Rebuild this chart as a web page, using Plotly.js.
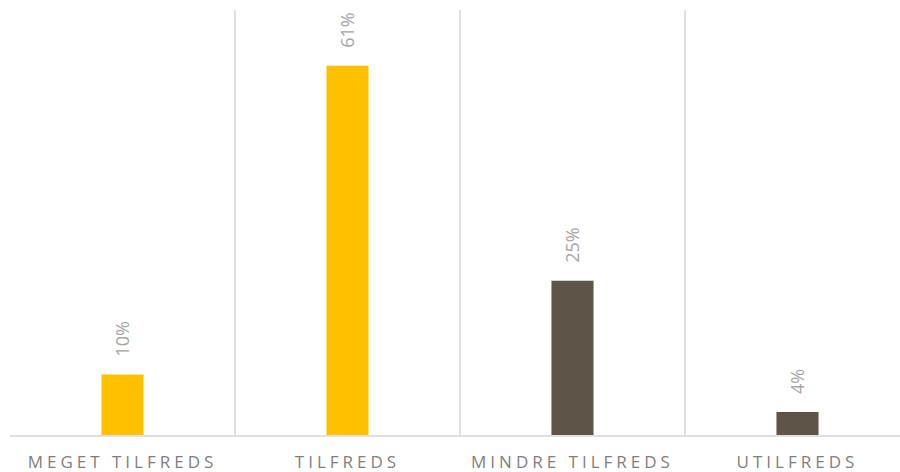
<!DOCTYPE html>
<html>
<head>
<meta charset="utf-8">
<script src="https://cdn.plot.ly/plotly-3.0.1.min.js"></script>
<style>
html,body{margin:0;padding:0;background:#fff;}
#chart{width:900px;height:472px;}
.xtick text{letter-spacing:4px;}
</style>
</head>
<body>
<div id="chart"></div>
<script>
const categories = ["MEGET TILFREDS", "TILFREDS", "MINDRE TILFREDS", "UTILFREDS"];
const values = [9.95, 60.8, 25.4, 3.8];
const valueLabels = ["10%", "61%", "25%", "4%"];
const barColors = ["#FFC000", "#FFC000", "#5E5549", "#5E5549"];

const trace = {
  type: "bar",
  x: categories,
  y: values,
  marker: {color: barColors},
  width: 0.187,
  hoverinfo: "skip"
};

const annotations = categories.map((c, i) => ({
  x: c, y: values[i], xref: "x", yref: "y",
  text: valueLabels[i], showarrow: false,
  textangle: -90, yanchor: "bottom", xanchor: "center",
  yshift: 16,
  font: {family: "Open Sans, sans-serif", size: 18, color: "#A6A6A6"}
}));

const layout = {
  width: 900, height: 472,
  margin: {l: 10, r: 0, t: 10, b: 37},
  paper_bgcolor: "#fff", plot_bgcolor: "#fff",
  showlegend: false,
  xaxis: {
    type: "category",
    range: [-0.5, 3.4556],
    tickson: "boundaries",
    showgrid: true, gridcolor: "#E0E0E0", gridwidth: 2,
    showline: true, linecolor: "#E0E0E0", linewidth: 2,
    ticks: "", zeroline: false,
    ticklabelstandoff: 11,
    tickfont: {family: "Open Sans, sans-serif", size: 17, color: "#7F7F7F"},
    fixedrange: true
  },
  yaxis: {
    range: [0, 70],
    showgrid: false, zeroline: false, showline: false,
    showticklabels: false, ticks: "",
    fixedrange: true
  },
  annotations: annotations
};

Plotly.newPlot("chart", [trace], layout, {displayModeBar: false, staticPlot: true});
</script>
</body>
</html>
